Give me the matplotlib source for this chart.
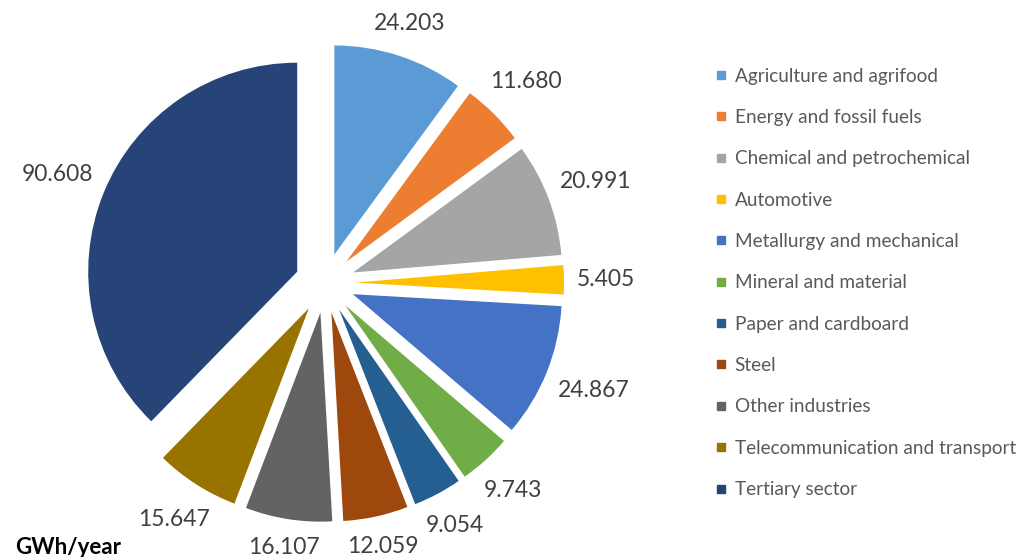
import numpy as np
import matplotlib
matplotlib.use("Agg")
from matplotlib import pyplot as plt
from matplotlib.lines import Line2D

sectors = ["Agriculture and agrifood", "Energy and fossil fuels", "Chemical and petrochemical",
           "Automotive", "Metallurgy and mechanical", "Mineral and material", "Paper and cardboard",
           "Steel", "Other industries", "Telecommunication and transport", "Tertiary sector"]
consumption = [24.203, 11.680, 20.991, 5.405, 24.867, 9.743, 9.054, 12.059, 16.107, 15.647, 90.608]
colors = ["#5B9BD5", "#ED7D31", "#A5A5A5", "#FFC000", "#4472C4", "#70AD47",
          "#255E91", "#9E480E", "#636363", "#997300", "#264478"]
unit = "GWh/year"

plt.rcParams["font.family"] = ["Lato", "DejaVu Sans"]

W, H = 1021, 557
fig = plt.figure(figsize=(W / 100, H / 100), dpi=100)
ax = fig.add_axes([0, 0, 1, 1])

# axes in pixel units so the pie sits where it does in the original
R = 209
wedges, _ = ax.pie(consumption, colors=colors, startangle=90, counterclock=False,
                   radius=R, center=(325, H - 283), explode=[30] * len(consumption),
                   wedgeprops=dict(linewidth=0), frame=True)
ax.set_xlim(0, W)
ax.set_ylim(0, H)
ax.set_aspect("equal")
ax.axis("off")

# value labels just outside the outer edge (Excel "outside end")
renderer = fig.canvas.get_renderer()
gap = 13
for w, v in zip(wedges, consumption):
    th = np.deg2rad((w.theta1 + w.theta2) / 2)
    c, s = np.cos(th), np.sin(th)
    cx, cy = w.center
    t = ax.text(0, 0, f"{v:.3f}", ha="center", va="center", fontsize=16.5, color="#404040")
    bb = t.get_window_extent(renderer)
    d = R + gap + bb.width / 2 * abs(c) + bb.height / 2 * abs(s)
    t.set_position((cx + d * c, cy + d * s))

handles = [Line2D([], [], marker="s", linestyle="none", markersize=5.5,
                  markerfacecolor=c, markeredgecolor=c) for c in colors]
fig.legend(handles, sectors, loc="upper left", bbox_to_anchor=(707 / W, 1 - 60 / H),
           frameon=False, fontsize=13.7, labelcolor="#595959", handlelength=0.7,
           handletextpad=0.35, labelspacing=1.28, borderaxespad=0)

fig.text(15 / W, 10 / H, unit, fontsize=16, fontweight="bold", color="black",
         ha="left", va="center")

fig.savefig("out.png", dpi=100)
